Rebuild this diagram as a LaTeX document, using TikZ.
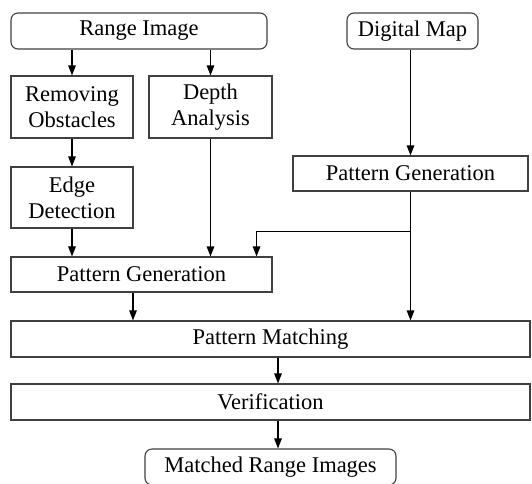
\documentclass[tikz,border=0pt]{standalone}
\usepackage{fontspec}
\setmainfont{Liberation Serif}
\usetikzlibrary{arrows.meta,calc}
\begin{document}
\begin{tikzpicture}[x=1pt,y=-1pt,
  box/.style={draw=black!75, line width=1.1pt, inner sep=0pt, align=center,
    font=\fontsize{22.5}{26}\selectfont},
  rbox/.style={box, rounded corners=7pt},
  arr/.style={draw=black, line width=1.1pt, -{Triangle[length=10pt,width=7.5pt]}},
  wire/.style={draw=black, line width=1.1pt}]
\useasboundingbox (0,0) rectangle (532,483);
\clip (0,0) rectangle (532,483);

% inputs
\node[rbox, minimum width=256pt, minimum height=36pt] (range) at (139,31) {Range Image};
\node[rbox, minimum width=131pt, minimum height=36pt] (map) at (412.5,31) {Digital Map};

% range image branch
\node[box, minimum width=122pt, minimum height=62pt] (remove) at (72,107) {Removing\\Obstacles};
\node[box, minimum width=123pt, minimum height=62pt] (depth) at (210.5,107) {Depth\\Analysis};
\node[box, minimum width=122pt, minimum height=61pt] (edge) at (72,197.5) {Edge\\Detection};
\node[box, minimum width=261pt, minimum height=35pt] (pgl) at (141.5,274.5) {Pattern Generation};

% map branch
\node[box, minimum width=235pt, minimum height=35pt] (pgr) at (410.5,173.5) {Pattern Generation};

% common chain
\node[box, minimum width=519pt, minimum height=36pt] (pm) at (270.5,339) {Pattern Matching};
\node[box, minimum width=519pt, minimum height=36pt] (ver) at (270.5,402) {Verification};
\node[rbox, minimum width=251pt, minimum height=36pt] (out) at (270.5,467) {Matched Range Images};

% junction points
\coordinate (split) at ($(pgr.south)+(0,40)$);
\coordinate (tapL) at ($(pgl.north east)+(-16,0)$);
\coordinate (pglOut) at ($(pgl.south)+(-8.5,0)$);
\coordinate (pmOut) at ($(pm.south)+(7.5,0)$);

% connectors
\draw[arr] (range.south -| remove.north) -- (remove.north);
\draw[arr] (range.south -| depth.north) -- (depth.north);
\draw[arr] (map.south -| pgr.north) -- (pgr.north);
\draw[arr] (remove) -- (edge);
\draw[arr] (edge.south) -- (edge.south |- pgl.north);
\draw[arr] (depth.south) -- (depth.south |- pgl.north);
\draw[arr] (pgr.south) -- (pgr.south |- pm.north);
\draw[wire] (split) -| ($(tapL)+(0,-1)$);
\draw[arr] (tapL |- split) -- (tapL);
\draw[arr] (pglOut) -- (pglOut |- pm.north);
\draw[arr] (pmOut) -- (pmOut |- ver.north);
\draw[arr] (pmOut |- ver.south) -- (pmOut |- out.north);
\end{tikzpicture}
\end{document}
